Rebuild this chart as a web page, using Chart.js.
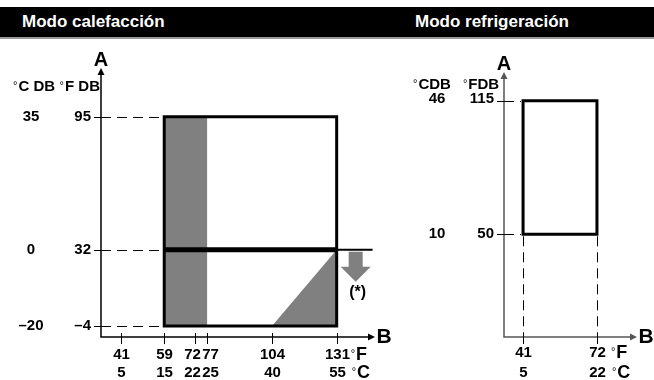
<!DOCTYPE html>
<html>
<head>
<meta charset="utf-8">
<title>Modo calefacción / Modo refrigeración</title>
<script src="https://cdn.jsdelivr.net/npm/chart.js"></script>
<style>
    body { margin: 0; background: #fff; font-family: "Liberation Sans", Arial, sans-serif; }
    #page { position: relative; width: 654px; height: 380px; overflow: hidden; }
    .bar { position: absolute; left: 0; top: 7px; width: 654px; height: 30px; background: #000; border-bottom: 2px solid #999; }
    .bar span { position: absolute; top: 5px; color: #fff; font-weight: bold; font-size: 17px; }
    canvas { position: absolute; top: 40px; }
</style>
</head>
<body>
<div id="page">
    <div class="bar"><span style="left:22px">Modo calefacción</span><span style="left:415px">Modo refrigeración</span></div>
    <canvas id="heatChart" width="400" height="340" style="left:0"></canvas>
    <canvas id="coolChart" width="254" height="340" style="left:400px"></canvas>
</div>

<script>
    // heating mode: values in °F, the °C labels sit beside them
    var heatXF = [41, 59, 72, 77, 104, 131];
    var heatXC = [5, 15, 22, 25, 40, 55];
    var heatYF = [95, 32, -4];
    var heatYC = [35, 0, -20];
    var heatBoxX = [59, 131];
    var heatBoxY = [-4, 95];
    var heatBandX = [59, 77];      // grey band, full height
    var heatWedgeX = [104, 131];   // grey wedge, bottom right
    var heatLimitY = 32;
    var heatLimitEnd = 146;

    // cooling mode
    var coolXF = [41, 72];
    var coolXC = [5, 22];
    var coolYF = [115, 50];
    var coolYC = [46, 10];
    var coolBoxX = [41, 72];
    var coolBoxY = [50, 115];

    var FONT = '"Liberation Sans", Arial, sans-serif';
    var GREY = "#808080";

    function fmt(v) {
        return v < 0 ? "\u2013" + (-v) : "" + v;
    }

    function txt(ctx, s, x, y, align, size) {
        ctx.font = "bold " + (size || 15) + "px " + FONT;
        ctx.textAlign = align || "center";
        ctx.textBaseline = "middle";
        ctx.fillText(s, x, y);
    }

    // small raised degree sign followed by the unit text
    function degTxt(ctx, s, x, y, align, size) {
        size = size || 15;
        ctx.font = "11px " + FONT;
        var w1 = ctx.measureText("\u00b0").width + 1;
        ctx.font = "bold " + size + "px " + FONT;
        var w2 = ctx.measureText(s).width;
        var left = x;
        if (align === "center") left = x - (w1 + w2) / 2;
        if (align === "right") left = x - (w1 + w2);
        ctx.textAlign = "left";
        ctx.textBaseline = "middle";
        ctx.font = "11px " + FONT;
        ctx.fillText("\u00b0", left, y - 1);
        ctx.font = "bold " + size + "px " + FONT;
        ctx.fillText(s, left + w1, y);
    }

    function seg(ctx, x1, y1, x2, y2) {
        ctx.beginPath();
        ctx.moveTo(x1, y1);
        ctx.lineTo(x2, y2);
        ctx.stroke();
    }

    function crisp(v) {
        return Math.round(v) + 0.5;
    }

    function dashed(ctx, x1, y1, x2, y2) {
        ctx.save();
        ctx.setLineDash([10, 6]);
        ctx.lineWidth = 1;
        ctx.strokeStyle = "#000";
        if (x1 === x2) { x1 = x2 = crisp(x1); } else { y1 = y2 = crisp(y1); }
        seg(ctx, x1, y1, x2, y2);
        ctx.restore();
    }

    function axes(chart, color) {
        var ctx = chart.ctx, a = chart.chartArea;
        ctx.save();
        ctx.strokeStyle = color;
        ctx.fillStyle = color;
        ctx.lineWidth = 1.5;
        ctx.beginPath();
        ctx.moveTo(a.left, a.top + 5);
        ctx.lineTo(a.left, a.bottom);
        ctx.lineTo(a.right - 5, a.bottom);
        ctx.stroke();
        ctx.beginPath();
        ctx.moveTo(a.left, a.top);
        ctx.lineTo(a.left - 3.5, a.top + 7);
        ctx.lineTo(a.left + 3.5, a.top + 7);
        ctx.fill();
        ctx.beginPath();
        ctx.moveTo(a.right, a.bottom);
        ctx.lineTo(a.right - 7, a.bottom - 3.5);
        ctx.lineTo(a.right - 7, a.bottom + 3.5);
        ctx.fill();
        ctx.restore();
        ctx.fillStyle = "#000";
        txt(ctx, "A", a.left, a.top - 8, "center", 20);
        txt(ctx, "B", a.right + 9, a.bottom, "center", 21);
    }

    function xTicks(chart, valsF, valsC, nudge, rowF, rowC) {
        var ctx = chart.ctx, a = chart.chartArea, xs = chart.scales.x;
        ctx.save();
        ctx.strokeStyle = "#000";
        ctx.lineWidth = 1;
        ctx.fillStyle = "#000";
        valsF.forEach(function(v, i) {
            var x = crisp(xs.getPixelForValue(v));
            seg(ctx, x, a.bottom - 4, x, a.bottom + 7);
            var dx = nudge[v] || 0;
            txt(ctx, fmt(v), x + dx, a.bottom + rowF);
            txt(ctx, fmt(valsC[i]), x + dx, a.bottom + rowC);
        });
        var last = xs.getPixelForValue(valsF[valsF.length - 1]);
        degTxt(ctx, "F", last + 14, a.bottom + rowF, "left", 18);
        degTxt(ctx, "C", last + 15, a.bottom + rowC, "left", 18);
        ctx.restore();
    }

    var heatDecor = {
        id: "heatDecor",
        afterDatasetsDraw: function(chart) {
            var ctx = chart.ctx, a = chart.chartArea, xs = chart.scales.x, ys = chart.scales.y;
            axes(chart, "#000");
            ctx.save();
            ctx.fillStyle = "#000";
            ctx.strokeStyle = "#000";
            ctx.lineWidth = 1;
            var boxLeft = xs.getPixelForValue(heatBoxX[0]);
            heatYF.forEach(function(v, i) {
                var y = ys.getPixelForValue(v);
                seg(ctx, a.left - 7, crisp(y), a.left, crisp(y));
                txt(ctx, fmt(v), a.left - 10, y, "right");
                txt(ctx, fmt(heatYC[i]), a.left - 70, y);
                dashed(ctx, a.left, y, boxLeft - 2, y);
            });
            var top = ys.getPixelForValue(heatYF[0]);
            degTxt(ctx, "C DB", a.left - 88, top - 30, "left");
            degTxt(ctx, "F DB", a.left - 1, top - 30, "right");

            // grey arrow under the limit line
            var cx = xs.getPixelForValue(heatBoxX[1]) + 19;
            var ay = ys.getPixelForValue(heatLimitY) + 2;
            ctx.fillStyle = GREY;
            ctx.beginPath();
            ctx.moveTo(cx - 7, ay);
            ctx.lineTo(cx + 7, ay);
            ctx.lineTo(cx + 7, ay + 15);
            ctx.lineTo(cx + 15, ay + 15);
            ctx.lineTo(cx, ay + 30);
            ctx.lineTo(cx - 15, ay + 15);
            ctx.lineTo(cx - 7, ay + 15);
            ctx.closePath();
            ctx.fill();
            ctx.fillStyle = "#000";
            txt(ctx, "(*)", cx + 2, ay + 41, "center", 16);
            ctx.restore();
            xTicks(chart, heatXF, heatXC, { 72: -3, 77: 3 }, 18, 36);
        }
    };

    var coolDecor = {
        id: "coolDecor",
        afterDatasetsDraw: function(chart) {
            var ctx = chart.ctx, a = chart.chartArea, xs = chart.scales.x, ys = chart.scales.y;
            axes(chart, "#555");
            ctx.save();
            ctx.fillStyle = "#000";
            ctx.strokeStyle = "#000";
            ctx.lineWidth = 1;
            var boxLeft = xs.getPixelForValue(coolBoxX[0]);
            var boxBottom = ys.getPixelForValue(coolBoxY[0]);
            coolYF.forEach(function(v, i) {
                var y = ys.getPixelForValue(v);
                var ly = i === 0 ? y - 2 : y;
                seg(ctx, a.left - 7, crisp(y), a.left, crisp(y));
                txt(ctx, fmt(v), a.left - 10, ly, "right");
                txt(ctx, fmt(coolYC[i]), a.left - 67, ly);
                dashed(ctx, a.left, y, boxLeft - 2, y);
            });
            var top = ys.getPixelForValue(coolYF[0]);
            degTxt(ctx, "CDB", a.left - 72, top - 16, "center");
            degTxt(ctx, "FDB", a.left - 23, top - 16, "center");
            coolBoxX.forEach(function(v) {
                var x = xs.getPixelForValue(v);
                dashed(ctx, x, boxBottom + 2, x, a.bottom);
            });
            ctx.restore();
            xTicks(chart, coolXF, coolXC, {}, 16, 36);
        }
    };

    function outline(xr, yr, width) {
        return {
            data: [
                { x: xr[0], y: yr[0] }, { x: xr[0], y: yr[1] },
                { x: xr[1], y: yr[1] }, { x: xr[1], y: yr[0] }, { x: xr[0], y: yr[0] }
            ],
            borderColor: "#000",
            borderWidth: width,
            borderCapStyle: "square",
            borderJoinStyle: "miter",
            fill: false,
            order: 1
        };
    }

    function baseOptions(xMin, xMax, yMin, yMax, pad) {
        return {
            responsive: false,
            animation: false,
            devicePixelRatio: 1,
            layout: { padding: pad },
            elements: { point: { radius: 0 }, line: { tension: 0 } },
            plugins: { legend: { display: false }, tooltip: { enabled: false } },
            scales: {
                x: { type: "linear", min: xMin, max: xMax, display: false },
                y: { type: "linear", min: yMin, max: yMax, display: false }
            }
        };
    }

    new Chart(document.getElementById("heatChart"), {
        type: "line",
        data: {
            datasets: [
                {
                    data: [{ x: heatBandX[0], y: heatBoxY[1] }, { x: heatBandX[1], y: heatBoxY[1] }],
                    fill: { value: heatBoxY[0] },
                    backgroundColor: GREY,
                    borderWidth: 0,
                    order: 5
                },
                {
                    data: [{ x: heatWedgeX[0], y: heatBoxY[0] }, { x: heatWedgeX[1], y: heatLimitY }],
                    fill: { value: heatBoxY[0] },
                    backgroundColor: GREY,
                    borderWidth: 0,
                    order: 5
                },
                outline(heatBoxX, heatBoxY, 3),
                {
                    data: [{ x: heatBoxX[0], y: heatLimitY }, { x: heatBoxX[1], y: heatLimitY }],
                    borderColor: "#000",
                    borderWidth: 5,
                    fill: false,
                    order: 1
                },
                {
                    data: [{ x: heatBoxX[1], y: heatLimitY }, { x: heatLimitEnd, y: heatLimitY }],
                    borderColor: "#000",
                    borderWidth: 2,
                    fill: false,
                    order: 1
                }
            ]
        },
        options: baseOptions(32.6, 147, -9.2, 118, { left: 101, right: 25, top: 28, bottom: 43 }),
        plugins: [heatDecor]
    });

    new Chart(document.getElementById("coolChart"), {
        type: "line",
        data: {
            datasets: [outline(coolBoxX, coolBoxY, 3)]
        },
        options: baseOptions(33, 88.8, 0, 129, { left: 104, right: 17, top: 32, bottom: 43 }),
        plugins: [coolDecor]
    });
</script>
</body>
</html>
